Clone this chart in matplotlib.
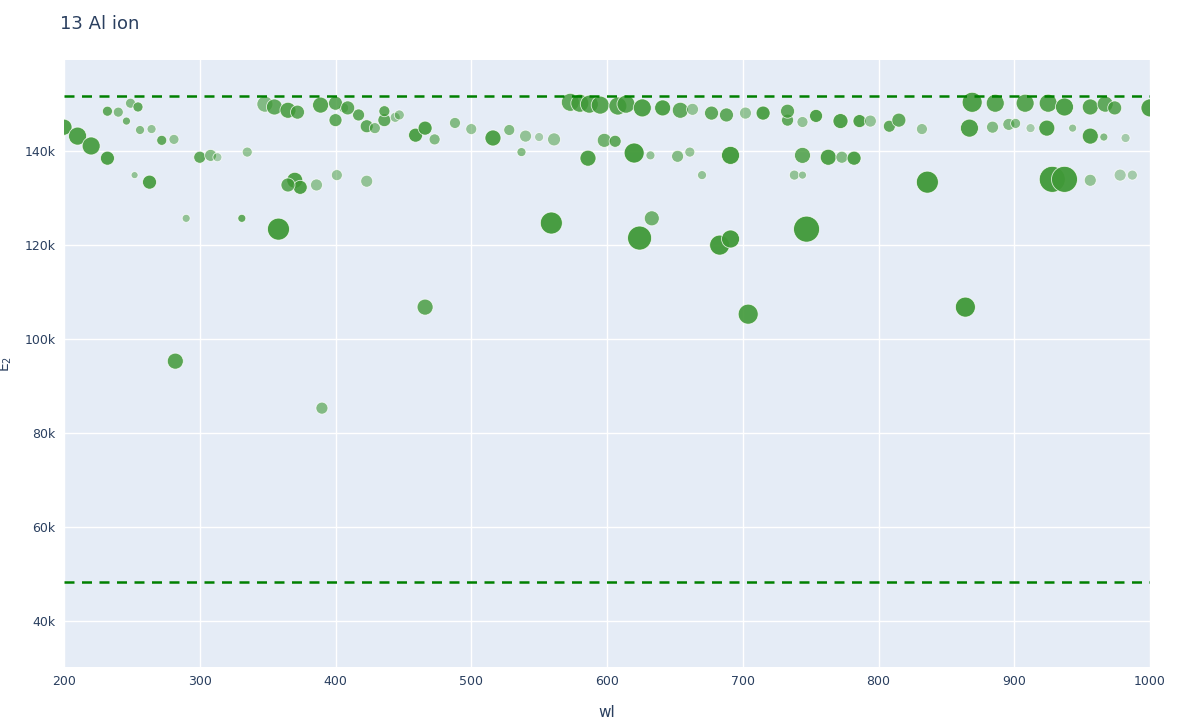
"""
13 Al ion: E2 vs wavelength scatter (plotly-like style)
"""
import numpy as np
import matplotlib
matplotlib.use("Agg")
import matplotlib.pyplot as plt

# wl (nm), E2 (k units), marker diameter (px), opacity
wl = [200, 210, 220, 232, 282, 390, 466, 358, 559, 624, 633, 683, 691, 704, 747, 864, 836,
      928, 937, 956, 978, 987, 263, 370, 374, 365, 386, 401, 423, 252, 290, 331, 670, 738, 744,
      300, 308, 313, 335, 516, 537, 586, 598, 606, 620, 632, 652, 661, 691, 744, 763, 773, 782,
      272, 281, 264.5, 256, 246, 459, 473, 466, 500, 528, 540, 550, 561, 423, 429, 436, 444, 436,
      400, 417, 406, 867, 884, 896, 901, 912, 924, 956, 966, 943, 982, 808, 815, 832,
      715, 733, 744, 754, 772, 786, 794,
      573, 580, 587, 595, 608, 614, 626, 641, 654, 663, 677, 688, 702, 733,
      348, 355, 365, 372, 389, 400, 409, 249, 254.5, 232, 240, 447, 488,
      869, 886, 908, 925, 937, 956, 967, 974, 1000]
e2 = [145.1, 143.2, 141.1, 138.5, 95.3, 85.3, 106.8, 123.4, 124.7, 121.5, 125.7, 120.0, 121.3,
      105.3, 123.4, 106.8, 133.4, 134.0, 134.0, 133.8, 134.9, 134.9, 133.4, 133.8, 132.3, 132.8,
      132.8, 134.9, 133.6, 134.9, 125.7, 125.7, 134.9, 134.9, 134.9,
      138.7, 139.1, 138.7, 139.8, 142.8, 139.8, 138.5, 142.3, 142.1, 139.6, 139.1, 138.9, 139.8,
      139.1, 139.1, 138.7, 138.7, 138.5,
      142.3, 142.5, 144.7, 144.5, 146.4, 143.4, 142.5, 144.9, 144.7, 144.5, 143.2, 143.0, 142.5,
      145.3, 144.9, 146.6, 147.2, 148.5, 146.6, 147.7, 149.2,
      144.9, 145.1, 145.7, 145.9, 144.9, 144.9, 143.2, 143.0, 144.9, 142.8, 145.3, 146.6, 144.7,
      148.1, 146.6, 146.2, 147.5, 146.4, 146.4, 146.4,
      150.4, 150.2, 150.0, 149.8, 149.6, 150.0, 149.2, 149.2, 148.7, 148.9, 148.1, 147.7, 148.1, 148.5,
      150.0, 149.4, 148.7, 148.3, 149.8, 150.2, 149.2, 150.2, 149.4, 148.5, 148.3, 147.7, 146.0,
      150.4, 150.2, 150.2, 150.2, 149.4, 149.4, 150.0, 149.2, 149.2]
size = [16, 18, 18, 14, 16, 12, 16, 22, 22, 24, 15, 20, 18, 20, 26, 20, 22, 26, 26, 12, 12, 10,
        14, 16, 14, 14, 12, 11, 12, 7, 8, 8, 9, 10, 8,
        12, 12, 9, 10, 16, 9, 16, 14, 12, 20, 9, 12, 10, 18, 16, 16, 12, 14,
        10, 10, 9, 9, 8, 14, 11, 14, 11, 11, 12, 9, 13, 13, 11, 13, 10, 11, 13, 12, 10,
        18, 12, 12, 10, 9, 16, 16, 8, 8, 9, 12, 14, 11,
        14, 12, 11, 13, 15, 13, 12,
        18, 18, 18, 18, 18, 18, 18, 16, 16, 12, 14, 14, 12, 14,
        16, 16, 16, 14, 16, 14, 14, 10, 10, 10, 10, 10, 11,
        20, 18, 18, 18, 18, 16, 16, 14, 18]
alpha = [0.9, 0.9, 0.9, 0.9, 0.85, 0.6, 0.8, 0.95, 0.95, 0.95, 0.7, 0.95, 0.95, 0.9, 0.95, 0.95,
         0.95, 0.95, 0.95, 0.5, 0.4, 0.4, 0.9, 0.9, 0.9, 0.8, 0.5, 0.5, 0.5, 0.5, 0.5, 0.8, 0.5,
         0.5, 0.5,
         0.8, 0.6, 0.4, 0.5, 0.9, 0.6, 0.9, 0.7, 0.8, 0.95, 0.5, 0.6, 0.5, 0.95, 0.8, 0.9, 0.6, 0.9,
         0.8, 0.5, 0.5, 0.6, 0.7, 0.9, 0.6, 0.9, 0.5, 0.6, 0.5, 0.4, 0.5, 0.8, 0.6, 0.8, 0.5, 0.8,
         0.8, 0.8, 0.6,
         0.9, 0.6, 0.6, 0.6, 0.4, 0.9, 0.9, 0.6, 0.5, 0.4, 0.8, 0.8, 0.5,
         0.9, 0.8, 0.5, 0.9, 0.9, 0.9, 0.5,
         0.8, 0.85, 0.85, 0.85, 0.85, 0.85, 0.9, 0.9, 0.8, 0.5, 0.8, 0.8, 0.5, 0.8,
         0.6, 0.8, 0.85, 0.8, 0.85, 0.8, 0.8, 0.6, 0.8, 0.8, 0.6, 0.5, 0.6,
         0.9, 0.85, 0.85, 0.85, 0.9, 0.85, 0.8, 0.8, 0.9]

upper_line = 151.7
lower_line = 48.3

green = (0.25, 0.6, 0.22)
font_col = "#2a3f5f"

fig = plt.figure(figsize=(12, 7.2), dpi=100)
ax = fig.add_axes([64 / 1200, 1 - 667 / 720, 1086 / 1200, 607 / 720])
ax.set_facecolor("#E5ECF6")

colors = [(*green, a) for a in alpha]
s = [(d * 0.72) ** 2 for d in size]
ax.scatter(wl, e2, s=s, c=colors, edgecolors=(1, 1, 1, 0.8), linewidths=0.6, zorder=3)
ax.axhline(upper_line, color="green", ls=(0, (4, 3)), lw=1.8, zorder=4)
ax.axhline(lower_line, color="green", ls=(0, (4, 3)), lw=1.8, zorder=4)

ax.set_xlim(200, 1000)
ax.set_ylim(30.2, 159.4)
ax.set_xticks(range(200, 1001, 100))
ax.set_yticks(range(40, 141, 20))
ax.set_yticklabels([f"{v}k" for v in range(40, 141, 20)])
ax.grid(color="white", lw=1, zorder=0)
ax.set_axisbelow(True)
for sp in ax.spines.values():
    sp.set_visible(False)
ax.tick_params(length=0, labelsize=9, colors=font_col, pad=6)
ax.set_xlabel("wl", fontsize=11, color=font_col, labelpad=12)
ax.set_ylabel("E$_2$", fontsize=10, color=font_col)
ax.yaxis.set_label_coords(-50 / 1086, 0.5)
fig.text(60 / 1200, 1 - 24 / 720, "13 Al ion", fontsize=13, color=font_col, va="center")

fig.savefig("out.png", dpi=100)
